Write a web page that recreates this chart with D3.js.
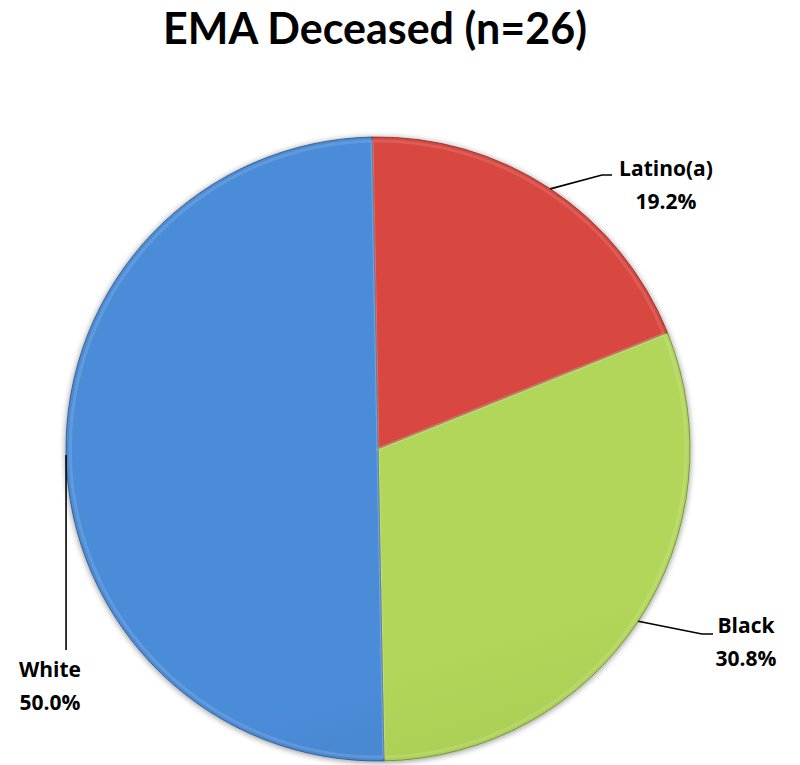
<!DOCTYPE html>
<html>
<head>
<meta charset="utf-8">
<script src="https://cdn.jsdelivr.net/npm/d3@7"></script>
<style>
  html, body { margin: 0; padding: 0; background: #fff; }
  svg { display: block; }
  text { font-weight: bold; fill: #000; }
</style>
</head>
<body>
<svg id="chart" width="800" height="765"></svg>
<script>
// ---- data ----
const categories = ["Latino(a)", "Black", "White"];
const counts = [5, 8, 13];
const total = 26;
const titleText = "EMA Deceased (n=26)";

// ---- styles ----
const sliceTop = ["#d8463f", "#b2d65a", "#4c8cd8"];
const sliceBottom = ["#b0372f", "#8aae3e", "#3568a9"];

const cx = 378, cy = 449, R = 312;
const startDeg = -1.1;

const svg = d3.select("#chart");
const defs = svg.append("defs");

// drop shadow
const f = defs.append("filter").attr("id", "shadow").attr("x", "-10%").attr("y", "-10%").attr("width", "120%").attr("height", "120%");
f.append("feGaussianBlur").attr("in", "SourceAlpha").attr("stdDeviation", 3).attr("result", "b");
f.append("feOffset").attr("in", "b").attr("dx", 0).attr("dy", 1).attr("result", "o");
f.append("feComponentTransfer").attr("in", "o").attr("result", "o2")
  .append("feFuncA").attr("type", "linear").attr("slope", 0.45);
const m = f.append("feMerge");
m.append("feMergeNode").attr("in", "o2");
m.append("feMergeNode").attr("in", "SourceGraphic");

categories.forEach((c, i) => {
  const g = defs.append("linearGradient").attr("id", "grad" + i)
    .attr("gradientUnits", "userSpaceOnUse")
    .attr("x1", cx - R * 0.3).attr("y1", cy - R).attr("x2", cx + R * 0.3).attr("y2", cy + R);
  g.append("stop").attr("offset", "0%").attr("stop-color", sliceTop[i]);
  g.append("stop").attr("offset", "100%").attr("stop-color", sliceBottom[i]);
});

// title
svg.append("text")
  .attr("x", 375).attr("y", 44)
  .attr("text-anchor", "middle")
  .attr("font-family", "Lato, 'Open Sans', sans-serif")
  .attr("font-size", 43)
  .text(titleText);

const pie = d3.pie().sort(null)
  .startAngle(startDeg * Math.PI / 180)
  .endAngle(startDeg * Math.PI / 180 + 2 * Math.PI);
const arcs = pie(counts);
const arc = d3.arc().innerRadius(0).outerRadius(R);

const gPie = svg.append("g").attr("transform", `translate(${cx},${cy})`).attr("filter", "url(#shadow)");
gPie.selectAll("path.slice").data(arcs).enter().append("path")
  .attr("class", "slice")
  .attr("d", arc)
  .attr("fill", (d, i) => `url(#grad${i})`)
  .attr("stroke", (d, i) => d3.color(sliceBottom[i]).darker(0.8))
  .attr("stroke-width", 0.8);

// subtle bevel highlight inside each slice
const arcIn = d3.arc().innerRadius(0).outerRadius(R - 4);
gPie.selectAll("path.bevel").data(arcs).enter().append("path")
  .attr("class", "bevel")
  .attr("d", arcIn)
  .attr("fill", "none")
  .attr("stroke", "rgba(255,255,255,0.12)")
  .attr("stroke-width", 3);

// labels
const fmt = d3.format(".1f");
const labelLayout = [
  { elbow: [602, 175], end: [612, 175], tx: 666, ty: 176 },
  { elbow: [702, 634], end: [713, 634], tx: 746, ty: 633 },
  { elbow: null, end: [65, 650], tx: 50, ty: 677 }
];

arcs.forEach((d, i) => {
  const mid = (d.startAngle + d.endAngle) / 2;
  const sx = cx + R * Math.sin(mid);
  const sy = cy - R * Math.cos(mid);
  const L = labelLayout[i];
  const pts = [[sx, sy]];
  if (L.elbow) pts.push(L.elbow);
  pts.push(i === 2 ? [sx, L.end[1]] : L.end);
  svg.append("path")
    .attr("d", d3.line()(pts))
    .attr("fill", "none")
    .attr("stroke", "#000")
    .attr("stroke-width", 1.6);
  const t = svg.append("text").attr("text-anchor", "middle")
    .attr("font-family", "'Open Sans', Lato, sans-serif")
    .attr("font-size", 21);
  t.append("tspan").attr("x", L.tx).attr("y", L.ty).text(categories[i]);
  t.append("tspan").attr("x", L.tx).attr("y", L.ty + 33).text(fmt(counts[i] / total * 100) + "%");
});
</script>
</body>
</html>
